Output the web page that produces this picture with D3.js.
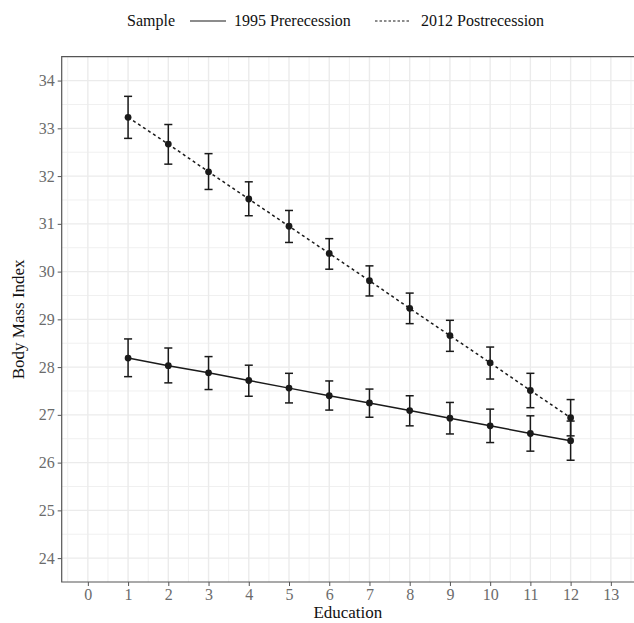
<!DOCTYPE html>
<html>
<head>
<meta charset="utf-8">
<script src="https://cdn.jsdelivr.net/npm/d3@7"></script>
<style>
  body { margin: 0; background: #fff; }
  text { font-family: "Liberation Serif", "DejaVu Serif", serif; }
</style>
</head>
<body>
<div id="chart"></div>
<script>
var education = [1, 2, 3, 4, 5, 6, 7, 8, 9, 10, 11, 12];

var bmi1995 = [28.19, 28.03, 27.88, 27.72, 27.56, 27.40, 27.25, 27.09, 26.93, 26.77, 26.61, 26.46];
var low1995 = [27.80, 27.67, 27.53, 27.39, 27.25, 27.10, 26.95, 26.77, 26.60, 26.42, 26.24, 26.05];
var high1995 = [28.59, 28.40, 28.22, 28.04, 27.87, 27.71, 27.54, 27.40, 27.26, 27.12, 26.98, 26.87];

var bmi2012 = [33.23, 32.67, 32.09, 31.52, 30.95, 30.38, 29.81, 29.23, 28.66, 28.09, 27.51, 26.94];
var low2012 = [32.79, 32.25, 31.72, 31.17, 30.61, 30.05, 29.49, 28.91, 28.33, 27.75, 27.15, 26.56];
var high2012 = [33.67, 33.08, 32.47, 31.88, 31.28, 30.69, 30.12, 29.55, 28.98, 28.42, 27.87, 27.32];

var seriesNames = ["1995 Prerecession", "2012 Postrecession"];
var xTicks = [0, 1, 2, 3, 4, 5, 6, 7, 8, 9, 10, 11, 12, 13];
var yTicks = [24, 25, 26, 27, 28, 29, 30, 31, 32, 33, 34];

function drawChart(div) {
    var width = 634,
        height = 623,
        left = 61.7, top = 56.7, right = 637, bottom = 582,
        svg = d3.select(div)
                .append("svg")
                .attr("width", width)
                .attr("height", height);

    var x = d3.scaleLinear().domain([-0.65, 13.65]).range([left, right]);
    var y = d3.scaleLinear().domain([23.5, 34.5]).range([bottom, top]);

    var xMinor = d3.range(-0.5, 14, 1),
        yMinor = d3.range(24.5, 34, 1);

    // grid
    var grid = svg.append("g");
    grid.selectAll("line.xminor").data(xMinor).enter().append("line")
        .attr("x1", function(d) { return x(d); }).attr("x2", function(d) { return x(d); })
        .attr("y1", top).attr("y2", bottom)
        .attr("stroke", "#f0f0f0").attr("stroke-width", 1);
    grid.selectAll("line.yminor").data(yMinor).enter().append("line")
        .attr("y1", function(d) { return y(d); }).attr("y2", function(d) { return y(d); })
        .attr("x1", left).attr("x2", right)
        .attr("stroke", "#f0f0f0").attr("stroke-width", 1);
    grid.selectAll("line.xmajor").data(xTicks).enter().append("line")
        .attr("x1", function(d) { return x(d); }).attr("x2", function(d) { return x(d); })
        .attr("y1", top).attr("y2", bottom)
        .attr("stroke", "#ebebeb").attr("stroke-width", 1.4);
    grid.selectAll("line.ymajor").data(yTicks).enter().append("line")
        .attr("y1", function(d) { return y(d); }).attr("y2", function(d) { return y(d); })
        .attr("x1", left).attr("x2", right)
        .attr("stroke", "#ebebeb").attr("stroke-width", 1.4);

    // axes
    var xAxis = svg.append("g")
        .attr("transform", "translate(0," + bottom + ")")
        .call(d3.axisBottom(x).tickValues(xTicks).tickSize(4).tickPadding(3).tickFormat(d3.format("d")));
    var yAxis = svg.append("g")
        .attr("transform", "translate(" + left + ",0)")
        .call(d3.axisLeft(y).tickValues(yTicks).tickSize(4).tickPadding(3).tickFormat(d3.format("d")));
    [xAxis, yAxis].forEach(function(a) {
        a.select(".domain").remove();
        a.selectAll(".tick line").attr("stroke", "#555");
        a.selectAll(".tick text")
            .attr("fill", "#6b6b6b")
            .attr("font-size", "16px")
            .attr("font-family", "Liberation Serif, serif");
    });

    // panel border (right side falls outside the page)
    svg.append("path")
        .attr("d", "M" + width + "," + top + "H" + left + "V" + bottom + "H" + width)
        .attr("fill", "none").attr("stroke", "#555").attr("stroke-width", 1.2);

    // series
    var series = [
        {name: seriesNames[0], mean: bmi1995, lo: low1995, hi: high1995, dash: null},
        {name: seriesNames[1], mean: bmi2012, lo: low2012, hi: high2012, dash: "3,3"}
    ];

    var line = d3.line()
        .x(function(d) { return x(d.e); })
        .y(function(d) { return y(d.v); });

    series.forEach(function(s) {
        var pts = education.map(function(e, i) {
            return {e: e, v: s.mean[i], lo: s.lo[i], hi: s.hi[i]};
        });
        var g = svg.append("g");
        g.append("path")
            .datum(pts)
            .attr("d", line)
            .attr("fill", "none")
            .attr("stroke", "#1a1a1a")
            .attr("stroke-width", 1.5)
            .attr("stroke-dasharray", s.dash);
        var bars = g.selectAll("g.bar").data(pts).enter().append("g")
            .attr("stroke", "#1a1a1a").attr("stroke-width", 1.5);
        bars.append("line")
            .attr("x1", function(d) { return x(d.e); }).attr("x2", function(d) { return x(d.e); })
            .attr("y1", function(d) { return y(d.lo); }).attr("y2", function(d) { return y(d.hi); });
        bars.append("line")
            .attr("x1", function(d) { return x(d.e - 0.1); }).attr("x2", function(d) { return x(d.e + 0.1); })
            .attr("y1", function(d) { return y(d.lo); }).attr("y2", function(d) { return y(d.lo); });
        bars.append("line")
            .attr("x1", function(d) { return x(d.e - 0.1); }).attr("x2", function(d) { return x(d.e + 0.1); })
            .attr("y1", function(d) { return y(d.hi); }).attr("y2", function(d) { return y(d.hi); });
        g.selectAll("circle").data(pts).enter().append("circle")
            .attr("cx", function(d) { return x(d.e); })
            .attr("cy", function(d) { return y(d.v); })
            .attr("r", 3.4)
            .attr("fill", "#1a1a1a");
    });

    // axis titles
    svg.append("text")
        .attr("x", (left + 610) / 2 + 12).attr("y", 618)
        .attr("text-anchor", "middle")
        .attr("font-size", "17px")
        .attr("fill", "#111")
        .text("Education");
    svg.append("text")
        .attr("transform", "translate(24," + (top + bottom) / 2 + ") rotate(-90)")
        .attr("text-anchor", "middle")
        .attr("font-size", "17px")
        .attr("fill", "#111")
        .text("Body Mass Index");

    // legend
    var legend = svg.append("g").attr("font-size", "16px").attr("fill", "#111");
    legend.append("text").attr("x", 127).attr("y", 26).text("Sample");
    var keyX = [190, 375],
        labX = [234, 421];
    series.forEach(function(s, i) {
        legend.append("line")
            .attr("x1", keyX[i]).attr("x2", keyX[i] + 36)
            .attr("y1", 21).attr("y2", 21)
            .attr("stroke", "#1a1a1a").attr("stroke-width", 1.2)
            .attr("stroke-dasharray", s.dash ? "2.5,2" : null);
        legend.append("text").attr("x", labX[i]).attr("y", 26).text(s.name);
    });
}

drawChart("#chart");
</script>
</body>
</html>
